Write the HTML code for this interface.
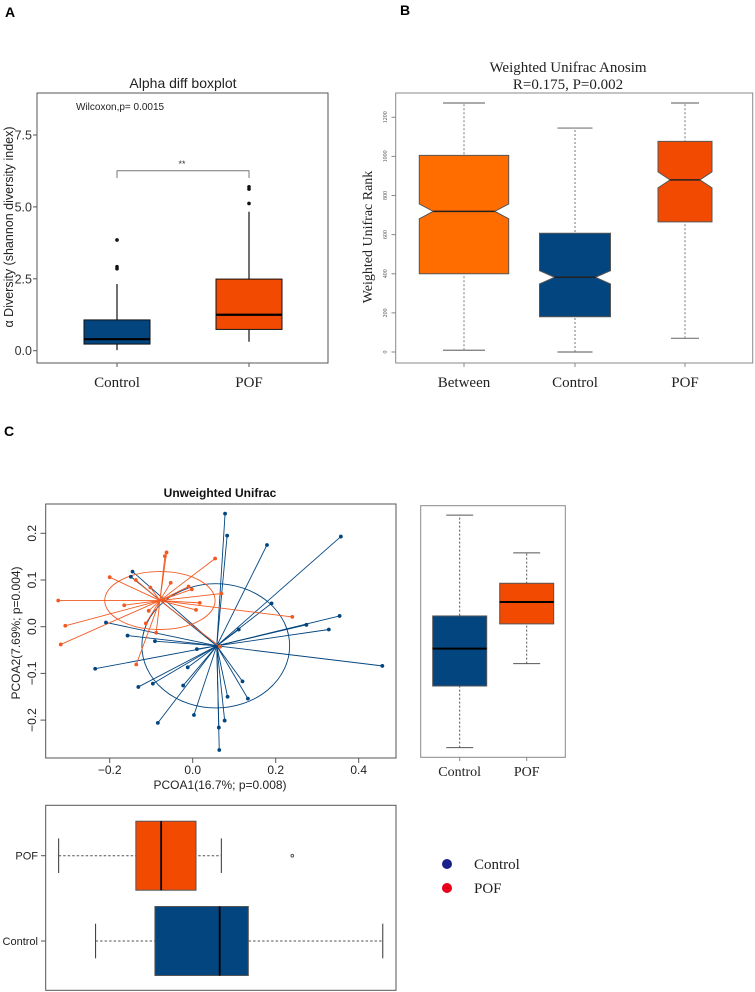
<!DOCTYPE html>
<html><head><meta charset="utf-8"><style>
html,body{margin:0;padding:0;background:#fff;}
svg{display:block;}
.sans{font-family:"Liberation Sans",sans-serif;}
.serif{font-family:"Liberation Serif",serif;}
</style></head><body>
<svg id="fig" width="755" height="992" viewBox="0 0 755 992" xmlns="http://www.w3.org/2000/svg">
<text x="5" y="17" class="sans" font-size="14" font-weight="bold">A</text>
<text x="400" y="15" class="sans" font-size="14" font-weight="bold">B</text>
<text x="4" y="436" class="sans" font-size="14" font-weight="bold">C</text>
<g id="gA"></g>
<g id="gB"></g>
<g id="gC"></g>
<g id="gR"></g>
<g id="gD"></g>
<g id="gL">
<circle cx="447" cy="864" r="5" fill="#1b1f8a"/>
<text x="474" y="869" class="serif" font-size="15" fill="#222">Control</text>
<circle cx="447" cy="888" r="5" fill="#e8001a"/>
<text x="474" y="893" class="serif" font-size="15" fill="#222">POF</text>
</g>
</svg>
<script>
// ---- Panel A data ----
const aCategories = ["Control","POF"];
const aMin = [0.02, 0.31];
const aQ1 = [0.23, 0.74];
const aMedian = [0.40, 1.25];
const aQ3 = [1.07, 2.49];
const aMax = [2.32, 4.83];
const aOutliers = [[2.85, 2.92, 3.85],[5.12, 5.62, 5.70]];
const aTicks = [0, 2.5, 5.0, 7.5];
const aTickLabels = ["0.0","2.5","5.0","7.5"];
// ---- Panel B data ----
const bCategories = ["Between","Control","POF"];
const bMin = [9, 0, 70];
const bQ1 = [400, 180, 665];
const bMedian = [719, 382, 880];
const bQ3 = [1005, 607, 1077];
const bMax = [1273, 1145, 1273];
const bNotch = [38, 34, 41];
const bTicks = [0,200,400,600,800,1000,1200];
// ---- Panel C data ----
const ctrlX = [0.078,0.083,0.179,0.357,-0.145,-0.149,0.190,-0.209,0.111,0.274,0.354,0.328,-0.157,-0.091,0.010,0.457,-0.235,-0.012,-0.131,-0.096,-0.023,0.120,0.084,0.133,0.003,-0.084,0.077,0.063,0.064];
const ctrlY = [0.242,0.195,0.175,0.193,0.118,0.107,0.050,0.009,-0.006,0.004,0.023,-0.006,-0.019,-0.031,-0.048,-0.084,-0.090,-0.087,-0.129,-0.122,-0.126,-0.117,-0.150,-0.154,-0.189,-0.206,-0.201,-0.216,-0.264];
const pofX = [-0.324,-0.307,-0.318,-0.200,-0.165,-0.137,-0.102,-0.106,-0.113,-0.088,-0.136,-0.067,-0.063,-0.053,0.054,-0.010,-0.002,0.069,0.017,0.008,0.240,0.066];
const pofY = [0.056,0.002,-0.038,0.106,0.046,0.100,0.084,0.034,0.007,-0.013,-0.081,0.151,0.159,0.094,0.146,0.086,0.080,0.071,0.051,0.036,0.021,-0.043];
const centroidX = [0.058, -0.079];
const centroidY = [-0.041, 0.056];
const ellipseRX = [0.178, 0.133];
const ellipseRY = [0.133, 0.062];
const pcTicksX = [-0.2, 0.0, 0.2, 0.4];
const pcTicksY = [-0.2, -0.1, 0.0, 0.1, 0.2];
// ---- PCoA2 boxplot ----
const rCategories = ["Control","POF"];
const rMin = [-0.259, -0.079];
const rQ1 = [-0.127, 0.006];
const rMedian = [-0.047, 0.053];
const rQ3 = [0.023, 0.093];
const rMax = [0.239, 0.158];
// ---- PCoA1 boxplot ----
const dCategories = ["POF","Control"];
const dMin = [-0.323, -0.234];
const dQ1 = [-0.137, -0.091];
const dMedian = [-0.076, 0.065];
const dQ3 = [0.008, 0.134];
const dMax = [0.069, 0.458];
const dOutliers = [[0.240],[]];

const NS="http://www.w3.org/2000/svg";
function mk(parent, tag, attrs, text){
  const e=document.createElementNS(NS,tag);
  for(const k in attrs) e.setAttribute(k, attrs[k]);
  if(text!==undefined) e.textContent=text;
  parent.appendChild(e); return e;
}
const BLUE="#03457f", ORANGE="#f24a00", BETWEEN="#ff6d00", GREY="#555";

// ===== Panel A =====
(function(){
  const g=document.getElementById('gA');
  const yA=v=>350.7-v*28.76;
  const xA=[117,249];
  let e=mk(g,'text',{x:183,y:88,'text-anchor':'middle','font-size':14,class:'sans',fill:'#222'},'Alpha diff boxplot');
   
  e=mk(g,'rect',{x:37,y:93,width:291,height:270,fill:'none',stroke:GREY,'stroke-width':1});
   
  e=mk(g,'text',{x:76,y:110,'font-size':10,class:'sans',fill:'#222'},'Wilcoxon,p= 0.0015');
   
  aTicks.forEach((t,i)=>{
    const y=yA(t);
    let l=mk(g,'line',{x1:33,x2:37,y1:y,y2:y,stroke:GREY});
     
    let tx=mk(g,'text',{x:32,y:y+4.5,'text-anchor':'end','font-size':12.5,class:'sans',fill:'#333'},aTickLabels[i]);
     
  });
  e=mk(g,'text',{transform:'translate(13,227) rotate(-90)','text-anchor':'middle','font-size':12.5,class:'sans',fill:'#222'},'α Diversity (shannon diversity index)');
   
  const cols=[BLUE,ORANGE];
  aCategories.forEach((c,i)=>{
    const x=xA[i], hw=33;
    let w=mk(g,'line',{x1:x,x2:x,y1:yA(aMin[i]),y2:yA(aMax[i]),stroke:'#111','stroke-width':1.2});
     
    let b=mk(g,'rect',{x:x-hw,y:yA(aQ3[i]),width:hw*2,height:yA(aQ1[i])-yA(aQ3[i]),fill:cols[i],stroke:'#111','stroke-width':1});
     
    let m=mk(g,'line',{x1:x-hw,x2:x+hw,y1:yA(aMedian[i]),y2:yA(aMedian[i]),stroke:'#000','stroke-width':2.2});
     
    aOutliers[i].forEach(o=>{
      let p=mk(g,'circle',{cx:x,cy:yA(o),r:1.8,fill:'#111'});
       
    });
    let t=mk(g,'line',{x1:x,x2:x,y1:363,y2:367,stroke:GREY});
     
    let lb=mk(g,'text',{x:x,y:387,'text-anchor':'middle','font-size':15,class:'serif',fill:'#222'},c);
     
  });
  e=mk(g,'path',{d:`M${xA[0]},178 V170.7 H${xA[1]} V178`,fill:'none',stroke:'#777','stroke-width':1});
   
  e=mk(g,'text',{x:182,y:167,'text-anchor':'middle','font-size':9,class:'sans',fill:'#333'},'**');
   
})();

// ===== Panel B =====
(function(){
  const g=document.getElementById('gB');
  const yB=v=>352-v*0.1956;
  const xB=[464,575,685], hwB=[44.7,35.5,27], capB=[21,17.5,14], insetB=[14,15,12];
  const cols=[BETWEEN,BLUE,ORANGE];
  let e=mk(g,'text',{x:568,y:72,'text-anchor':'middle','font-size':15,class:'serif',fill:'#222'},'Weighted  Unifrac Anosim');
   
  e=mk(g,'text',{x:568,y:89,'text-anchor':'middle','font-size':15,class:'serif',fill:'#222'},'R=0.175, P=0.002');
   
  e=mk(g,'rect',{x:395.7,y:93,width:357,height:270,fill:'none',stroke:'#888','stroke-width':1});
   
  e=mk(g,'text',{transform:'translate(372,237) rotate(-90)','text-anchor':'middle','font-size':14,class:'serif',fill:'#222'},'Weighted Unifrac Rank');
   
  bTicks.forEach(t=>{
    const y=yB(t);
    let l=mk(g,'line',{x1:391.5,x2:395.7,y1:y,y2:y,stroke:'#888'});
     
    let tx=mk(g,'text',{transform:`translate(387,${y}) rotate(-90)`,'text-anchor':'middle','font-size':6,class:'serif',fill:'#555'},String(t));
     
  });
  bCategories.forEach((c,i)=>{
    const x=xB[i], hw=hwB[i], n=bNotch[i], ins=insetB[i];
    let w=mk(g,'line',{x1:x,x2:x,y1:yB(bMin[i]),y2:yB(bMax[i]),stroke:'#777','stroke-dasharray':'2,2'});
     
    [bMin[i],bMax[i]].forEach(v=>{
      let cp=mk(g,'line',{x1:x-capB[i],x2:x+capB[i],y1:yB(v),y2:yB(v),stroke:'#777','stroke-width':1.2});
       
    });
    const yq3=yB(bQ3[i]), yq1=yB(bQ1[i]), ym=yB(bMedian[i]), yu=yB(bMedian[i]+n), yl=yB(bMedian[i]-n);
    const d=`M${x-hw},${yq3} H${x+hw} V${yu} L${x+hw-ins},${ym} L${x+hw},${yl} V${yq1} H${x-hw} V${yl} L${x-hw+ins},${ym} L${x-hw},${yu} Z`;
    let b=mk(g,'path',{d:d,fill:cols[i],stroke:'#555','stroke-width':1});
     
    let m=mk(g,'line',{x1:x-hw+ins,x2:x+hw-ins,y1:ym,y2:ym,stroke:'#222','stroke-width':1.5});
     
    let t=mk(g,'line',{x1:x,x2:x,y1:363,y2:367,stroke:'#888'});
     
    let lb=mk(g,'text',{x:x,y:387,'text-anchor':'middle','font-size':15,class:'serif',fill:'#222'},c);
     
  });
})();

// ===== Panel C: PCoA =====
const xP=v=>192.7+v*415;
const yP=v=>626.7-v*467;
(function(){
  const g=document.getElementById('gC');
  let e=mk(g,'text',{x:220,y:497,'text-anchor':'middle','font-size':12,'font-weight':'bold',class:'sans',fill:'#111'},'Unweighted Unifrac');
   
  e=mk(g,'rect',{x:45.7,y:504,width:350.3,height:254,fill:'none',stroke:GREY});
   
  pcTicksX.forEach(t=>{
    const x=xP(t);
    let l=mk(g,'line',{x1:x,x2:x,y1:758,y2:763,stroke:GREY});
     
    let tx=mk(g,'text',{x:x,y:774,'text-anchor':'middle','font-size':12,class:'sans',fill:'#222'},t.toFixed(1).replace('-','\u2212'));
     
  });
  pcTicksY.forEach(t=>{
    const y=yP(t);
    let l=mk(g,'line',{x1:40.5,x2:45.7,y1:y,y2:y,stroke:GREY});
     
    let tx=mk(g,'text',{transform:`translate(36,${y}) rotate(-90)`,'text-anchor':'middle','font-size':12,class:'sans',fill:'#222'},t.toFixed(1).replace('-','\u2212'));
     
  });
  e=mk(g,'text',{x:220,y:789,'text-anchor':'middle','font-size':12,class:'sans',fill:'#222'},'PCOA1(16.7%; p=0.008)');
   
  e=mk(g,'text',{transform:'translate(20,633) rotate(-90)','text-anchor':'middle','font-size':12,class:'sans',fill:'#222'},'PCOA2(7.69%; p=0.004)');
   
  const cols=[BLUE,"#f25a22"];
  const groups=[[ctrlX,ctrlY],[pofX,pofY]];
  const names=['control','pof'];
  groups.forEach((gr,k)=>{
    const cx=xP(centroidX[k]), cy=yP(centroidY[k]);
    let el=mk(g,'ellipse',{cx:cx+(k===0?-1:0),cy:cy,rx:ellipseRX[k]*415,ry:ellipseRY[k]*467,fill:'none',stroke:cols[k],'stroke-width':0.9});
     
    gr[0].forEach((vx,i)=>{
      let ln=mk(g,'line',{x1:cx,y1:cy,x2:xP(vx),y2:yP(gr[1][i]),stroke:cols[k],'stroke-width':0.9});
       
    });
  });
  groups.forEach((gr,k)=>{
    gr[0].forEach((vx,i)=>{
      let p=mk(g,'circle',{cx:xP(vx),cy:yP(gr[1][i]),r:1.9,fill:cols[k]});
       
    });
  });
})();

// ===== PCoA2 boxplot (right) =====
(function(){
  const g=document.getElementById('gR');
  let e=mk(g,'rect',{x:420.7,y:505.7,width:144.6,height:251.6,fill:'none',stroke:'#888'});
   
  const xs=[459.7,526.7], cols=[BLUE,ORANGE];
  rCategories.forEach((c,i)=>{
    const x=xs[i], hw=27;
    let w=mk(g,'line',{x1:x,x2:x,y1:yP(rMin[i]),y2:yP(rMax[i]),stroke:'#555','stroke-dasharray':'2,2'});
     
    [rMin[i],rMax[i]].forEach(v=>{
      let cp=mk(g,'line',{x1:x-13.5,x2:x+13.5,y1:yP(v),y2:yP(v),stroke:'#555'});
       
    });
    let b=mk(g,'rect',{x:x-hw,y:yP(rQ3[i]),width:hw*2,height:yP(rQ1[i])-yP(rQ3[i]),fill:cols[i],stroke:'#555'});
     
    let m=mk(g,'line',{x1:x-hw,x2:x+hw,y1:yP(rMedian[i]),y2:yP(rMedian[i]),stroke:'#000','stroke-width':2});
     
    let t=mk(g,'line',{x1:x,x2:x,y1:757.3,y2:761,stroke:'#888'});
     
    let lb=mk(g,'text',{x:x,y:776,'text-anchor':'middle','font-size':14,class:'serif',fill:'#222'},c);
     
  });
})();

// ===== PCoA1 boxplot (bottom) =====
(function(){
  const g=document.getElementById('gD');
  let e=mk(g,'rect',{x:45.7,y:805.3,width:350.3,height:185,fill:'none',stroke:GREY});
   
  const ys=[855.7,941], cols=[ORANGE,BLUE];
  dCategories.forEach((c,i)=>{
    const y=ys[i], hh=34.5;
    let w=mk(g,'line',{x1:xP(dMin[i]),x2:xP(dMax[i]),y1:y,y2:y,stroke:'#555','stroke-dasharray':'2.5,2'});
     
    [dMin[i],dMax[i]].forEach(v=>{
      let cp=mk(g,'line',{x1:xP(v),x2:xP(v),y1:y-17.3,y2:y+17.3,stroke:'#333'});
       
    });
    let b=mk(g,'rect',{x:xP(dQ1[i]),y:y-hh,width:xP(dQ3[i])-xP(dQ1[i]),height:hh*2,fill:cols[i],stroke:'#555'});
     
    let m=mk(g,'line',{x1:xP(dMedian[i]),x2:xP(dMedian[i]),y1:y-hh,y2:y+hh,stroke:'#000','stroke-width':1.8});
     
    dOutliers[i].forEach(o=>{
      let p=mk(g,'circle',{cx:xP(o),cy:y,r:1.3,fill:'none',stroke:'#555'});
       
    });
    let t=mk(g,'line',{x1:41,x2:45.7,y1:y,y2:y,stroke:GREY});
     
    let lb=mk(g,'text',{x:38,y:y+4,'text-anchor':'end','font-size':11,class:'sans',fill:'#222'},c);
     
  });
})();
</script>
</body></html>
